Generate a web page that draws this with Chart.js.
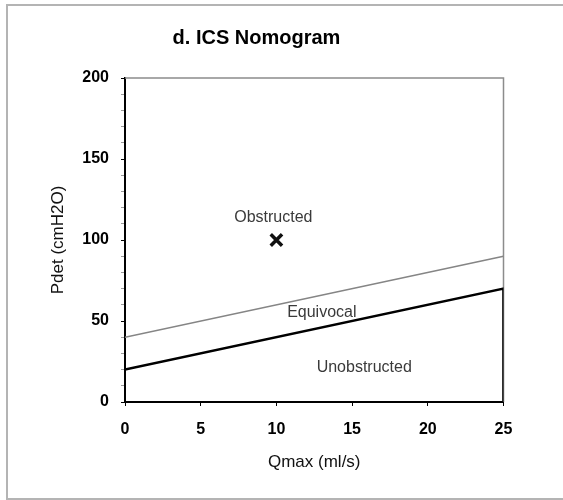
<!DOCTYPE html>
<html>
<head>
<meta charset="utf-8">
<title>d. ICS Nomogram</title>
<script src="https://cdn.jsdelivr.net/npm/chart.js@4.4.0/dist/chart.umd.min.js"></script>
<style>
  html, body { margin: 0; padding: 0; background: #fff; overflow: hidden; }
  #frame {
    position: absolute; left: 6px; top: 4px; width: 600px; height: 492px;
    border: 2px solid #b4b4b4; border-right: none; background: #fff;
  }
  #chart { position: absolute; left: 0; top: 0; }
</style>
</head>
<body>
<div id="frame"><canvas id="chart" width="507" height="491"></canvas></div>
<script>
// Qmax (ml/s) on x, Pdet (cmH2O) on y
const qmaxRange = [0, 25];
const pdetRange = [0, 200];

// upper boundary: obstructed / equivocal
const obstructedLineX = [0, 25];
const obstructedLineY = [40, 90];

// lower boundary: equivocal / unobstructed, closed at Qmax 25
const unobstructedLineX = [0, 25, 25];
const unobstructedLineY = [20, 70, 0];

// patient result
const patientX = [10];
const patientY = [100];

// zone names and where they sit
const zoneNames = ['Obstructed', 'Equivocal', 'Unobstructed'];
const zoneX = [9.8, 13, 15.8];
const zoneY = [114, 55, 21];

const toPoints = (xs, ys) => xs.map((x, i) => ({ x: x, y: ys[i] }));

const FONT = '"Liberation Sans", Arial, sans-serif';

// gray top and right edges of the plot area, zone names on top
const plotDecor = {
    id: 'plotDecor',
    beforeDatasetsDraw(chart) {
        const { ctx, chartArea: a } = chart;
        ctx.save();
        ctx.strokeStyle = '#8c8c8c';
        ctx.lineWidth = 1.5;
        ctx.beginPath();
        ctx.moveTo(a.left, a.top);
        ctx.lineTo(a.right, a.top);
        ctx.lineTo(a.right, a.bottom);
        ctx.stroke();
        ctx.restore();
    },
    afterDatasetsDraw(chart) {
        const { ctx, scales } = chart;
        ctx.save();
        ctx.font = '16px ' + FONT;
        ctx.fillStyle = '#3a3a3a';
        ctx.textAlign = 'center';
        ctx.textBaseline = 'middle';
        zoneNames.forEach((name, i) => {
            ctx.fillText(name, scales.x.getPixelForValue(zoneX[i]), scales.y.getPixelForValue(zoneY[i]));
        });
        ctx.restore();
    }
};

new Chart(document.getElementById('chart'), {
    type: 'scatter',
    data: {
        datasets: [
            {
                label: 'Obstructed boundary',
                data: toPoints(obstructedLineX, obstructedLineY),
                showLine: true,
                borderColor: '#858585',
                borderWidth: 1.5,
                pointRadius: 0,
                tension: 0
            },
            {
                label: 'Unobstructed boundary',
                data: toPoints(unobstructedLineX, unobstructedLineY),
                showLine: true,
                borderColor: '#000',
                borderWidth: 2.6,
                pointRadius: 0,
                tension: 0
            },
            {
                label: 'Patient',
                data: toPoints(patientX, patientY),
                pointStyle: 'crossRot',
                pointRadius: 8,
                borderColor: '#111',
                borderWidth: 3.5
            }
        ]
    },
    options: {
        responsive: false,
        devicePixelRatio: 1,
        animation: false,
        layout: { padding: { left: 0, right: 10, top: 0, bottom: 0 } },
        plugins: {
            legend: { display: false },
            tooltip: { enabled: false },
            title: {
                display: true,
                text: 'd. ICS Nomogram',
                color: '#000',
                font: { family: FONT, size: 20, weight: 'bold' },
                padding: { top: 20, bottom: 28 }
            }
        },
        scales: {
            x: {
                type: 'linear',
                min: qmaxRange[0],
                max: qmaxRange[1],
                afterFit: (scale) => {
                    scale.height = 95;
                    scale.paddingLeft = 0;
                    scale.paddingRight = 0;
                },
                border: { color: '#000', width: 2 },
                grid: { drawOnChartArea: false, tickLength: 4, tickColor: '#000' },
                ticks: {
                    stepSize: 5,
                    padding: 14,
                    color: '#000',
                    font: { family: FONT, size: 16, weight: 'bold' }
                },
                title: {
                    display: true,
                    text: 'Qmax (ml/s)',
                    color: '#111',
                    font: { family: FONT, size: 17 },
                    padding: { top: 0, bottom: 24 }
                }
            },
            y: {
                type: 'linear',
                min: pdetRange[0],
                max: pdetRange[1],
                afterFit: (scale) => { scale.width = 117; },
                border: { color: '#000', width: 2 },
                grid: {
                    drawOnChartArea: false,
                    tickLength: 4,
                    tickColor: (c) => (c.tick && c.tick.value % 50 === 0 ? '#000' : '#9a9a9a')
                },
                ticks: {
                    stepSize: 10,
                    autoSkip: false,
                    padding: 12,
                    color: '#000',
                    font: { family: FONT, size: 16, weight: 'bold' },
                    callback: (v) => (v % 50 === 0 ? v : '')
                },
                title: {
                    display: true,
                    text: 'Pdet (cmH2O)',
                    color: '#111',
                    font: { family: FONT, size: 17 },
                    padding: { top: 40, bottom: 0 }
                }
            }
        }
    },
    plugins: [plotDecor]
});
</script>
</body>
</html>
